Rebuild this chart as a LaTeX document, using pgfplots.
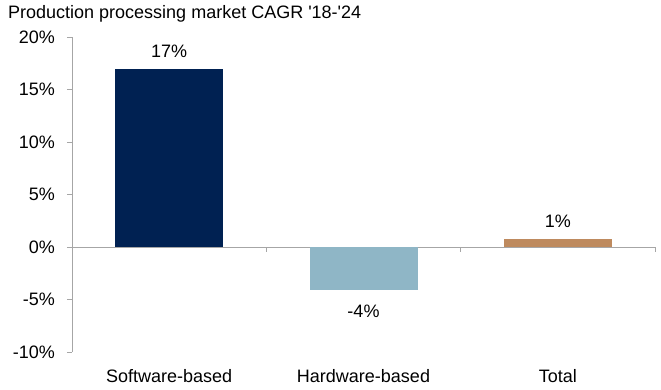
\documentclass[border=0pt]{standalone}
\usepackage{fontspec}
\setmainfont{Liberation Sans}[Ligatures=TeXOff]
\usepackage{pgfplots}
\pgfplotsset{compat=1.18}
\usetikzlibrary{calc}
\definecolor{navy}{RGB}{0,33,82}
\definecolor{lblue}{RGB}{143,182,198}
\definecolor{tanc}{RGB}{190,138,94}
\definecolor{axgray}{RGB}{166,166,166}
\begin{document}
\fontsize{18}{21}\selectfont
\begin{tikzpicture}
\path[use as bounding box] (-72pt,-37pt) rectangle (589pt,352pt);
\begin{axis}[name=ax, at={(0,0)}, anchor=south west,
  scale only axis, width=583pt, height=315pt,
  xmin=-0.5, xmax=2.5, ymin=-10, ymax=20,
  ytick={-10,-5,0,5,10,15,20},
  yticklabels={-10\%,-5\%,0\%,5\%,10\%,15\%,20\%},
  xtick={0,1,2},
  xticklabels={Software-based,Hardware-based,Total},
  axis y line*=left, axis x line*=bottom,
  x axis line style={draw=none},
  y axis line style={axgray, line width=1pt},
  ytick style={axgray, line width=1pt},
  xtick style={draw=none},
  tick align=outside, major tick length=5pt,
  yticklabel style={font=\fontsize{18}{21}\selectfont, inner sep=0pt, xshift=-12pt},
  xticklabel style={font=\fontsize{18}{21}\selectfont, anchor=base, inner sep=0pt, yshift=-25pt},
  ybar, bar width=108pt, bar shift=0pt,
  nodes near coords, point meta=explicit symbolic,
  every node near coord/.append style={font=\fontsize{18}{21}\selectfont, black, yshift=5pt},
  clip=false,
]
\draw[axgray, line width=1pt] (axis cs:-0.5,0) -- (axis cs:2.5,0);
\draw[axgray, line width=1pt] (axis cs:0.5,0) -- (axis cs:0.5,-0.45);
\draw[axgray, line width=1pt] (axis cs:1.5,0) -- (axis cs:1.5,-0.45);
\draw[axgray, line width=1pt] (axis cs:2.5,0) -- (axis cs:2.5,-0.45);
\addplot[fill=navy, draw=none] coordinates {(0,17) [17\%]};
\addplot[fill=lblue, draw=none, every node near coord/.append style={anchor=north, yshift=-14pt}] coordinates {(1,-4.1) [-4\%]};
\addplot[fill=tanc, draw=none] coordinates {(2,0.76) [1\%]};
\end{axis}
\node[anchor=base west, inner sep=0pt] at ($(ax.north west)+(-64pt,19pt)$) {Production processing market CAGR '18-'24};
\end{tikzpicture}
\end{document}
